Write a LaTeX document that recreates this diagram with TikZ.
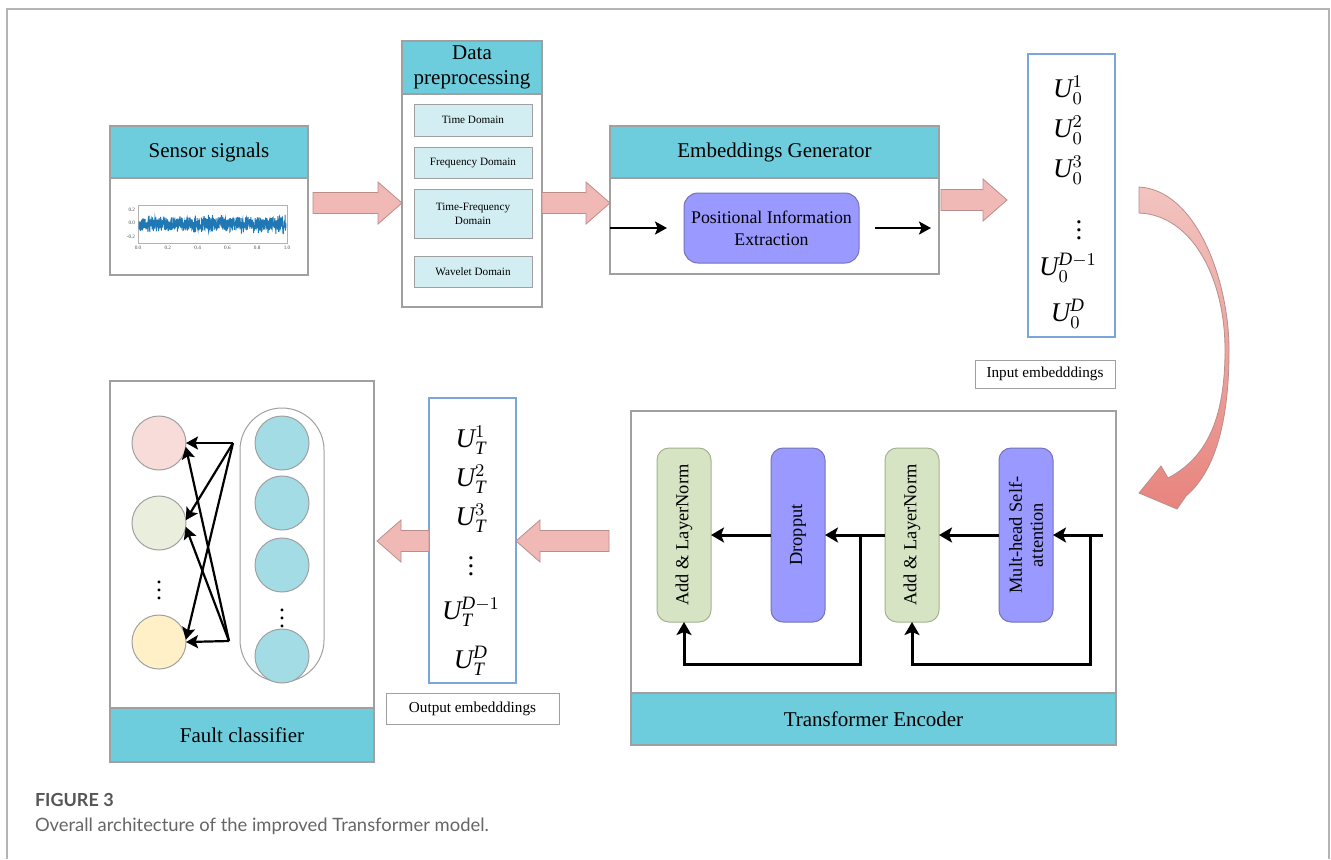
\documentclass[tikz,border=0pt]{standalone}
\usepackage{fontspec}
\setmainfont{Liberation Serif}
\newfontfamily\capfont{Lato}
\usetikzlibrary{arrows.meta,calc,fit}
\definecolor{bordergray}{HTML}{A0A0A0}
\definecolor{outergray}{HTML}{B4B4B4}
\definecolor{hdrteal}{HTML}{6DCDDC}
\definecolor{domcyan}{HTML}{D3EEF2}
\definecolor{purp}{HTML}{9999FF}
\definecolor{purpedge}{HTML}{7474B8}
\definecolor{grn}{HTML}{D6E4C4}
\definecolor{grnedge}{HTML}{A4B292}
\definecolor{embblue}{HTML}{7AA6D9}
\definecolor{pinkfill}{HTML}{F0B9B5}
\definecolor{pinkedge}{HTML}{B98E8B}
\definecolor{curvetop}{HTML}{F2C4C0}
\definecolor{curvebot}{HTML}{E8847E}
\definecolor{cpink}{HTML}{F8DCD9}
\definecolor{cgreen}{HTML}{E9EEDD}
\definecolor{cyellow}{HTML}{FFF0C8}
\definecolor{cblue}{HTML}{A3DCE5}
\definecolor{sigblue}{HTML}{1F77B4}
\definecolor{capgray}{HTML}{666666}
\definecolor{capdark}{HTML}{555555}
\newcommand\blockarrow[2]{%
  \coordinate (ba-h) at ($(#2)!12pt!(#1)$);
  \filldraw[pinkarr] ($(#1)!5.25pt!90:(#2)$) -- ($(ba-h)!5.25pt!-90:(#1)$) -- ($(ba-h)!10.5pt!-90:(#1)$) -- (#2) -- ($(ba-h)!10.5pt!90:(#1)$) -- ($(ba-h)!5.25pt!90:(#1)$) -- ($(#1)!5.25pt!-90:(#2)$) -- cycle;}
\begin{document}
\begin{tikzpicture}[x=0.5pt,y=-0.5pt,
  every node/.style={inner sep=0pt, outer sep=0pt},
  frame/.style={draw=bordergray, line width=0.6pt, fill=white},
  hdr/.style={draw=bordergray, line width=0.6pt, fill=hdrteal},
  title/.style={font=\fontsize{10.5}{12.5}\selectfont, align=center},
  dom/.style={draw=bordergray, line width=0.5pt, fill=domcyan},
  domtext/.style={font=\fontsize{5.6}{7}\selectfont, align=center},
  embbox/.style={draw=embblue, line width=0.7pt, fill=white},
  lbl/.style={draw=bordergray, line width=0.5pt, fill=white},
  lbltext/.style={font=\fontsize{7.6}{9}\selectfont},
  pinkarr/.style={fill=pinkfill, draw=pinkedge, line width=0.4pt},
  arr/.style={line width=1.5pt, -{Stealth[length=6.5pt,width=7.5pt,inset=1.5pt]}},
  thinarr/.style={line width=1.1pt, -{Stealth[length=6pt,width=6.5pt,inset=1.2pt]}},
  pill/.style={rounded corners=6pt, line width=0.5pt},
  rtext/.style={rotate=90, font=\fontsize{9.2}{10.5}\selectfont, align=center},
  mathf/.style={font=\fontsize{13.5}{15}\selectfont},
  circ/.style={circle, draw=bordergray, line width=0.5pt, minimum size=27pt},
  tick/.style={font=\fontsize{2.6}{3}\selectfont, text=black!70},
]
\useasboundingbox (0,0) rectangle (1331,859);
\fill[white] (0,0) rectangle (1331,859);
% outer frame
\draw[outergray, line width=1pt] (7,859) -- (7,9) -- (1329,9) -- (1329,859);

% ---------- Sensor signals ----------
\node[frame, fit={(110,126) (308,275)}] (sensor) {};
\node[hdr, fit={(110,126) (308,178)}] (sensorh) {};
\node[title] at (sensorh) {Sensor signals};
\draw[black!30, line width=0.3pt] (138,205) rectangle (287,243);
\pgfmathsetseed{7}
\draw[sigblue, line width=0.5pt] plot[domain=139:286, samples=800, variable=\t] (\t, {224+6*rand+5*rand*abs(rand)});
\node[tick, anchor=east] at (135,210) {0.2};
\node[tick, anchor=east] at (135,223) {0.0};
\node[tick, anchor=east] at (135,237) {-0.2};
\foreach \xx/\ll in {138/0.0, 167.8/0.2, 197.6/0.4, 227.4/0.6, 257.2/0.8, 287/1.0}
  \node[tick] at (\xx,248) {\ll};

% ---------- Data preprocessing ----------
\node[frame, fit={(402,41) (542,307)}] (data) {};
\node[hdr, fit={(402,41) (542,94)}] (datah) {};
\node[title] at (datah) {Data\\preprocessing};
\node[dom, fit={(414,104) (532,136)}] (td) {};
\node[domtext] at (td) {Time Domain};
\node[dom, fit={(414,147) (532,178)}] (fd) {};
\node[domtext] at (fd) {Frequency Domain};
\node[dom, fit={(414,189) (532,238)}] (tfd) {};
\node[domtext] at (tfd) {Time-Frequency\\Domain};
\node[dom, fit={(414,256) (532,287)}] (wd) {};
\node[domtext] at (wd) {Wavelet Domain};

% ---------- Embeddings Generator ----------
\node[frame, fit={(610,126) (939,274)}] (emb) {};
\node[hdr, fit={(610,126) (939,178)}] (embh) {};
\node[title] at (embh) {Embeddings Generator};
\node[draw=purpedge, fill=purp, rounded corners=7pt, line width=0.5pt, fit={(684,193) (859,263)}] (pie) {};
\node[font=\fontsize{8.9}{11}\selectfont, align=center] at (pie) {Positional Information\\Extraction};
\draw[line width=1.3pt, -{Stealth[length=6pt,width=6.5pt,inset=1.3pt]}] (emb.west |- pie.center) -- ([xshift=-8.5pt]pie.west);
\draw[line width=1.3pt, -{Stealth[length=6pt,width=6.5pt,inset=1.3pt]}] ([xshift=8pt]pie.east) -- ([xshift=-4pt]emb.east |- pie.center);

% ---------- Input embeddings ----------
\node[embbox, fit={(1028,54) (1115,337)}] (inemb) {};
\node[mathf] at (1068,90) {$\mathit{U}_{0}^{1}$};
\node[mathf] at (1068,130) {$\mathit{U}_{0}^{2}$};
\node[mathf] at (1068,170) {$\mathit{U}_{0}^{3}$};
\node[mathf] at (1079,224) {$\vdots$};
\node[mathf] at (1068,268) {$\mathit{U}_{0}^{\mathit{D}-1}$};
\node[mathf] at (1068,314) {$\mathit{U}_{0}^{\mathit{D}}$};
\node[lbl, fit={(975,360) (1115,388)}] (inlbl) {};
\node[lbltext] at (inlbl) {Input embedddings};

% ---------- block arrows (top row) ----------
\coordinate (a1s) at (313,203);
\coordinate (a1t) at (data.west |- a1s);
\blockarrow{a1s}{a1t}
\coordinate (a2s) at (data.east |- 0,203);
\coordinate (a2t) at (emb.west |- a2s);
\blockarrow{a2s}{a2t}
\coordinate (a3s) at (941,200);
\coordinate (a3t) at (1007,200);
\blockarrow{a3s}{a3t}

% ---------- curved arrow ----------
\shadedraw[top color=curvetop, bottom color=curvebot, draw=pinkedge, line width=0.4pt]
  (1139,187) .. controls (1196,190) and (1229,280) .. (1229,350)
  .. controls (1229,425) and (1214,472) .. (1186,496)
  -- (1177,509) -- (1139,493) -- (1161,466) -- (1168,478)
  .. controls (1206,458) and (1225,420) .. (1225,350)
  .. controls (1225,278) and (1192,215) .. (1139,213) -- cycle;

% ---------- Transformer Encoder ----------
\node[frame, fit={(631,411) (1116,745)}] (tenc) {};
\node[hdr, fit={(631,693) (1116,745)}] (tench) {};
\node[title] at (tench) {Transformer Encoder};
\node[pill, draw=grnedge, fill=grn, fit={(657,448) (711,622)}] (al1) {};
\node[rtext] at (al1) {Add \& LayerNorm};
\node[pill, draw=purpedge, fill=purp, fit={(771,448) (825,622)}] (dr) {};
\node[rtext] at (dr) {Dropput};
\node[pill, draw=grnedge, fill=grn, fit={(885,448) (939,622)}] (al2) {};
\node[rtext] at (al2) {Add \& LayerNorm};
\node[pill, draw=purpedge, fill=purp, fit={(999,448) (1053,622)}] (mh) {};
\node[rtext] at (mh) {Mult-head Self-\\attention};
\coordinate (tin) at (1103,535);
\draw[arr] (tin) -- (mh.east);
\draw[arr] (mh.west) -- (al2.east);
\draw[arr] (al2.west) -- (dr.east);
\draw[arr] (dr.west) -- (al1.east);
\coordinate (r1) at (1090,535);
\coordinate (r1b) at (1090,664);
\draw[arr] (r1) -- (r1b) -| (al2.south);
\coordinate (r2) at (860,535);
\coordinate (r2b) at (860,664);
\draw[arr] (r2) -- (r2b) -| (al1.south);

% ---------- Output embeddings ----------
\node[embbox, fit={(429,398) (516,683)}] (outemb) {};
\node[mathf] at (471,440) {$\mathit{U}_{\mathit{T}}^{1}$};
\node[mathf] at (471,479) {$\mathit{U}_{\mathit{T}}^{2}$};
\node[mathf] at (471,518) {$\mathit{U}_{\mathit{T}}^{3}$};
\node[mathf] at (471,560) {$\vdots$};
\node[mathf] at (471,612) {$\mathit{U}_{\mathit{T}}^{\mathit{D}-1}$};
\node[mathf] at (471,661) {$\mathit{U}_{\mathit{T}}^{\mathit{D}}$};
\node[lbl, fit={(386,693) (559,724)}] (outlbl) {};
\node[lbltext] at (outlbl) {Output embedddings};

\coordinate (a4s) at (609,541);
\coordinate (a4t) at (outemb.east |- a4s);
\blockarrow{a4s}{a4t}
\coordinate (a5s) at (outemb.west |- 0,541);
\coordinate (a5t) at (377,541);
\blockarrow{a5s}{a5t}

% ---------- Fault classifier ----------
\node[frame, fit={(110,381) (374,762)}] (fc) {};
\node[hdr, fit={(110,708) (374,762)}] (fch) {};
\node[title] at (fch) {Fault classifier};
\node[circ, fill=cpink] (o1) at (159,443) {};
\node[circ, fill=cgreen] (o2) at (159,523) {};
\node[font=\fontsize{12}{14}\selectfont] at (159,584) {$\vdots$};
\node[circ, fill=cyellow] (o3) at (159,642) {};
\node[draw=bordergray, line width=0.5pt, rounded corners=21pt, fit={(240,408) (324,682)}] (caps) {};
\node[circ, fill=cblue] (h1) at (282,443) {};
\node[circ, fill=cblue] (h2) at (282,503) {};
\node[circ, fill=cblue] (h3) at (282,565) {};
\node[font=\fontsize{12}{14}\selectfont] at (282,612) {$\vdots$};
\node[circ, fill=cblue] (h4) at (282,656) {};
\coordinate (A) at (233,443);
\coordinate (B) at (229,641);
\draw[thinarr] (A) -- (o1.east);
\draw[thinarr] (A) -- (o2.6);
\draw[thinarr] (A) -- (o3.5);
\draw[thinarr] (B) -- (o3.east);
\draw[thinarr] (B) -- (o2.-8);
\draw[thinarr] (B) -- (o1.-8);

% ---------- caption ----------
\node[anchor=base west, font=\capfont\fontsize{9}{11}\selectfont\bfseries, text=capdark] at (35,806) {FIGURE 3};
\node[anchor=base west, font=\capfont\fontsize{9.2}{11}\selectfont, text=capgray] at (35,831) {Overall architecture of the improved Transformer model.};
\end{tikzpicture}
\end{document}
